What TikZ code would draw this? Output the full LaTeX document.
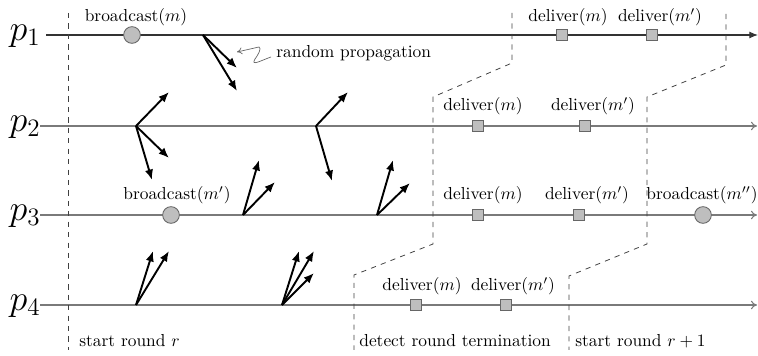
\documentclass[tikz,border=0pt]{standalone}
\usepackage{xcolor}
\usepackage{amsmath}
\usepackage{tikz}
\usetikzlibrary{arrows.meta,positioning}
\definecolor{eventgray}{HTML}{BEBEBE}
\definecolor{linegray}{HTML}{7A7A7A}

\begin{document}
\begin{tikzpicture}[
  x=0.575pt, y=-0.575pt,
  proc/.style={draw=linegray, line width=0.6pt},
  roundline/.style={draw=black!75, dashed, line width=0.45pt},
  bcast/.style={circle, draw=black!60, fill=eventgray, line width=0.5pt,
    minimum size=9.6pt, inner sep=0pt},
  dlv/.style={rectangle, draw=black!60, fill=eventgray, line width=0.5pt,
    minimum size=6.8pt, inner sep=0pt},
  msg/.style={-{Latex[length=6pt,width=4.8pt]}, draw=black, line width=1.1pt},
  squig/.style={-{To[length=3pt,width=4pt]}, draw=black!60, line width=0.4pt},
  evtext/.style={inner sep=0pt, anchor=base},
  proclbl/.style={font=\huge, inner sep=0pt}
]
\useasboundingbox (0,0) rectangle (758,356);

% processes
\node[proclbl] (lp1) at (25,36) {$p_1$};
\node[proclbl] (lp2) at (25,127) {$p_2$};
\node[proclbl] (lp3) at (25,216) {$p_3$};
\node[proclbl] (lp4) at (25,306) {$p_4$};
\coordinate (p1s) at (46,35);  \coordinate (p1e) at (758,35);
\coordinate (p2s) at (40,126); \coordinate (p2e) at (757,126);
\coordinate (p3s) at (40,215); \coordinate (p3e) at (757,215);
\coordinate (p4s) at (40,305); \coordinate (p4e) at (757,305);
\draw[proc, -{Latex[length=5pt,width=4pt]}, draw=black!80] (p1s) -- (p1e);
\draw[proc, -{To[length=3.5pt,width=5pt]}] (p2s) -- (p2e);
\draw[proc, -{To[length=3.5pt,width=5pt]}] (p3s) -- (p3e);
\draw[proc, -{To[length=3.5pt,width=5pt]}] (p4s) -- (p4e);

% round boundaries
\draw[roundline] (68,13) -- (68,350);
\draw[roundline] (512,13) -- (512,63) -- (433,97) -- (433,244) -- (354,275) -- (354,350);
\draw[roundline] (726,14) -- (726,65) -- (647,97) -- (647,244) -- (569,276) -- (569,350);

% random propagation
\coordinate (a1) at (203,35);  \coordinate (a1x) at (237,68);  \coordinate (a1y) at (237,91);
\coordinate (a2) at (136,126); \coordinate (a2x) at (169,92);  \coordinate (a2y) at (169,158);
\coordinate (a2z) at (152,180);
\coordinate (a3) at (316,126); \coordinate (a3x) at (348,92);  \coordinate (a3y) at (332,181);
\coordinate (a4) at (243,215); \coordinate (a4x) at (259,160); \coordinate (a4y) at (275,182);
\coordinate (a5) at (377,215); \coordinate (a5x) at (393,160); \coordinate (a5y) at (410,183);
\coordinate (a6) at (136,305); \coordinate (a6x) at (153,251); \coordinate (a6y) at (169,251);
\coordinate (a7) at (282,305); \coordinate (a7x) at (299,251); \coordinate (a7y) at (314,251);
\coordinate (a7z) at (314,273);
\draw[msg] (a1) -- (a1x);
\draw[msg] (a1) -- (a1y);
\draw[msg] (a2) -- (a2x);
\draw[msg] (a2) -- (a2y);
\draw[msg] (a2) -- (a2z);
\draw[msg] (a3) -- (a3x);
\draw[msg] (a3) -- (a3y);
\draw[msg] (a4) -- (a4x);
\draw[msg] (a4) -- (a4y);
\draw[msg] (a5) -- (a5x);
\draw[msg] (a5) -- (a5y);
\draw[msg] (a6) -- (a6x);
\draw[msg] (a6) -- (a6y);
\draw[msg] (a7) -- (a7x);
\draw[msg] (a7) -- (a7y);
\draw[msg] (a7) -- (a7z);

\node[inner sep=0pt, anchor=base west] (rnd) at (276,58) {random propagation};
\coordinate (sqs) at (271,57); \coordinate (sqe) at (237,52);
\draw[squig] (sqs) .. controls (262,60) and (250,67) .. (255,59)
  .. controls (258,55) and (262,48) .. (259,47) -- (sqe);

% events
\node[bcast] (bm)  at (132,35)  {};
\node[dlv]   (d1m) at (562,35)  {};
\node[dlv]   (d1n) at (652,35)  {};
\node[dlv]   (d2m) at (478,126) {};
\node[dlv]   (d2n) at (585,126) {};
\node[bcast] (bn)  at (171,215) {};
\node[dlv]   (d3m) at (478,215) {};
\node[dlv]   (d3n) at (579,215) {};
\node[bcast] (bo)  at (703,215) {};
\node[dlv]   (d4m) at (416,305) {};
\node[dlv]   (d4n) at (506,305) {};

\node[evtext] (tbm)  at (136,22)  {broadcast($m$)};
\node[evtext] (td1m) at (568,22)  {deliver($m$)};
\node[evtext] (td1n) at (660,22)  {deliver($m'$)};
\node[evtext] (td2m) at (483,111) {deliver($m$)};
\node[evtext] (td2n) at (593,111) {deliver($m'$)};
\node[evtext] (tbn)  at (177,200) {broadcast($m'$)};
\node[evtext] (td3m) at (483,200) {deliver($m$)};
\node[evtext] (td3n) at (587,200) {deliver($m'$)};
\node[evtext] (tbo)  at (702,200) {broadcast($m''$)};
\node[evtext] (td4m) at (422,291) {deliver($m$)};
\node[evtext] (td4n) at (513,291) {deliver($m'$)};

% phases
\node[evtext, anchor=base west] (ph1) at (79,347) {start round $r$};
\node[evtext, anchor=base west] (ph2) at (359,347) {detect round termination};
\node[evtext, anchor=base west] (ph3) at (575,347) {start round $r+1$};
\end{tikzpicture}
\end{document}
